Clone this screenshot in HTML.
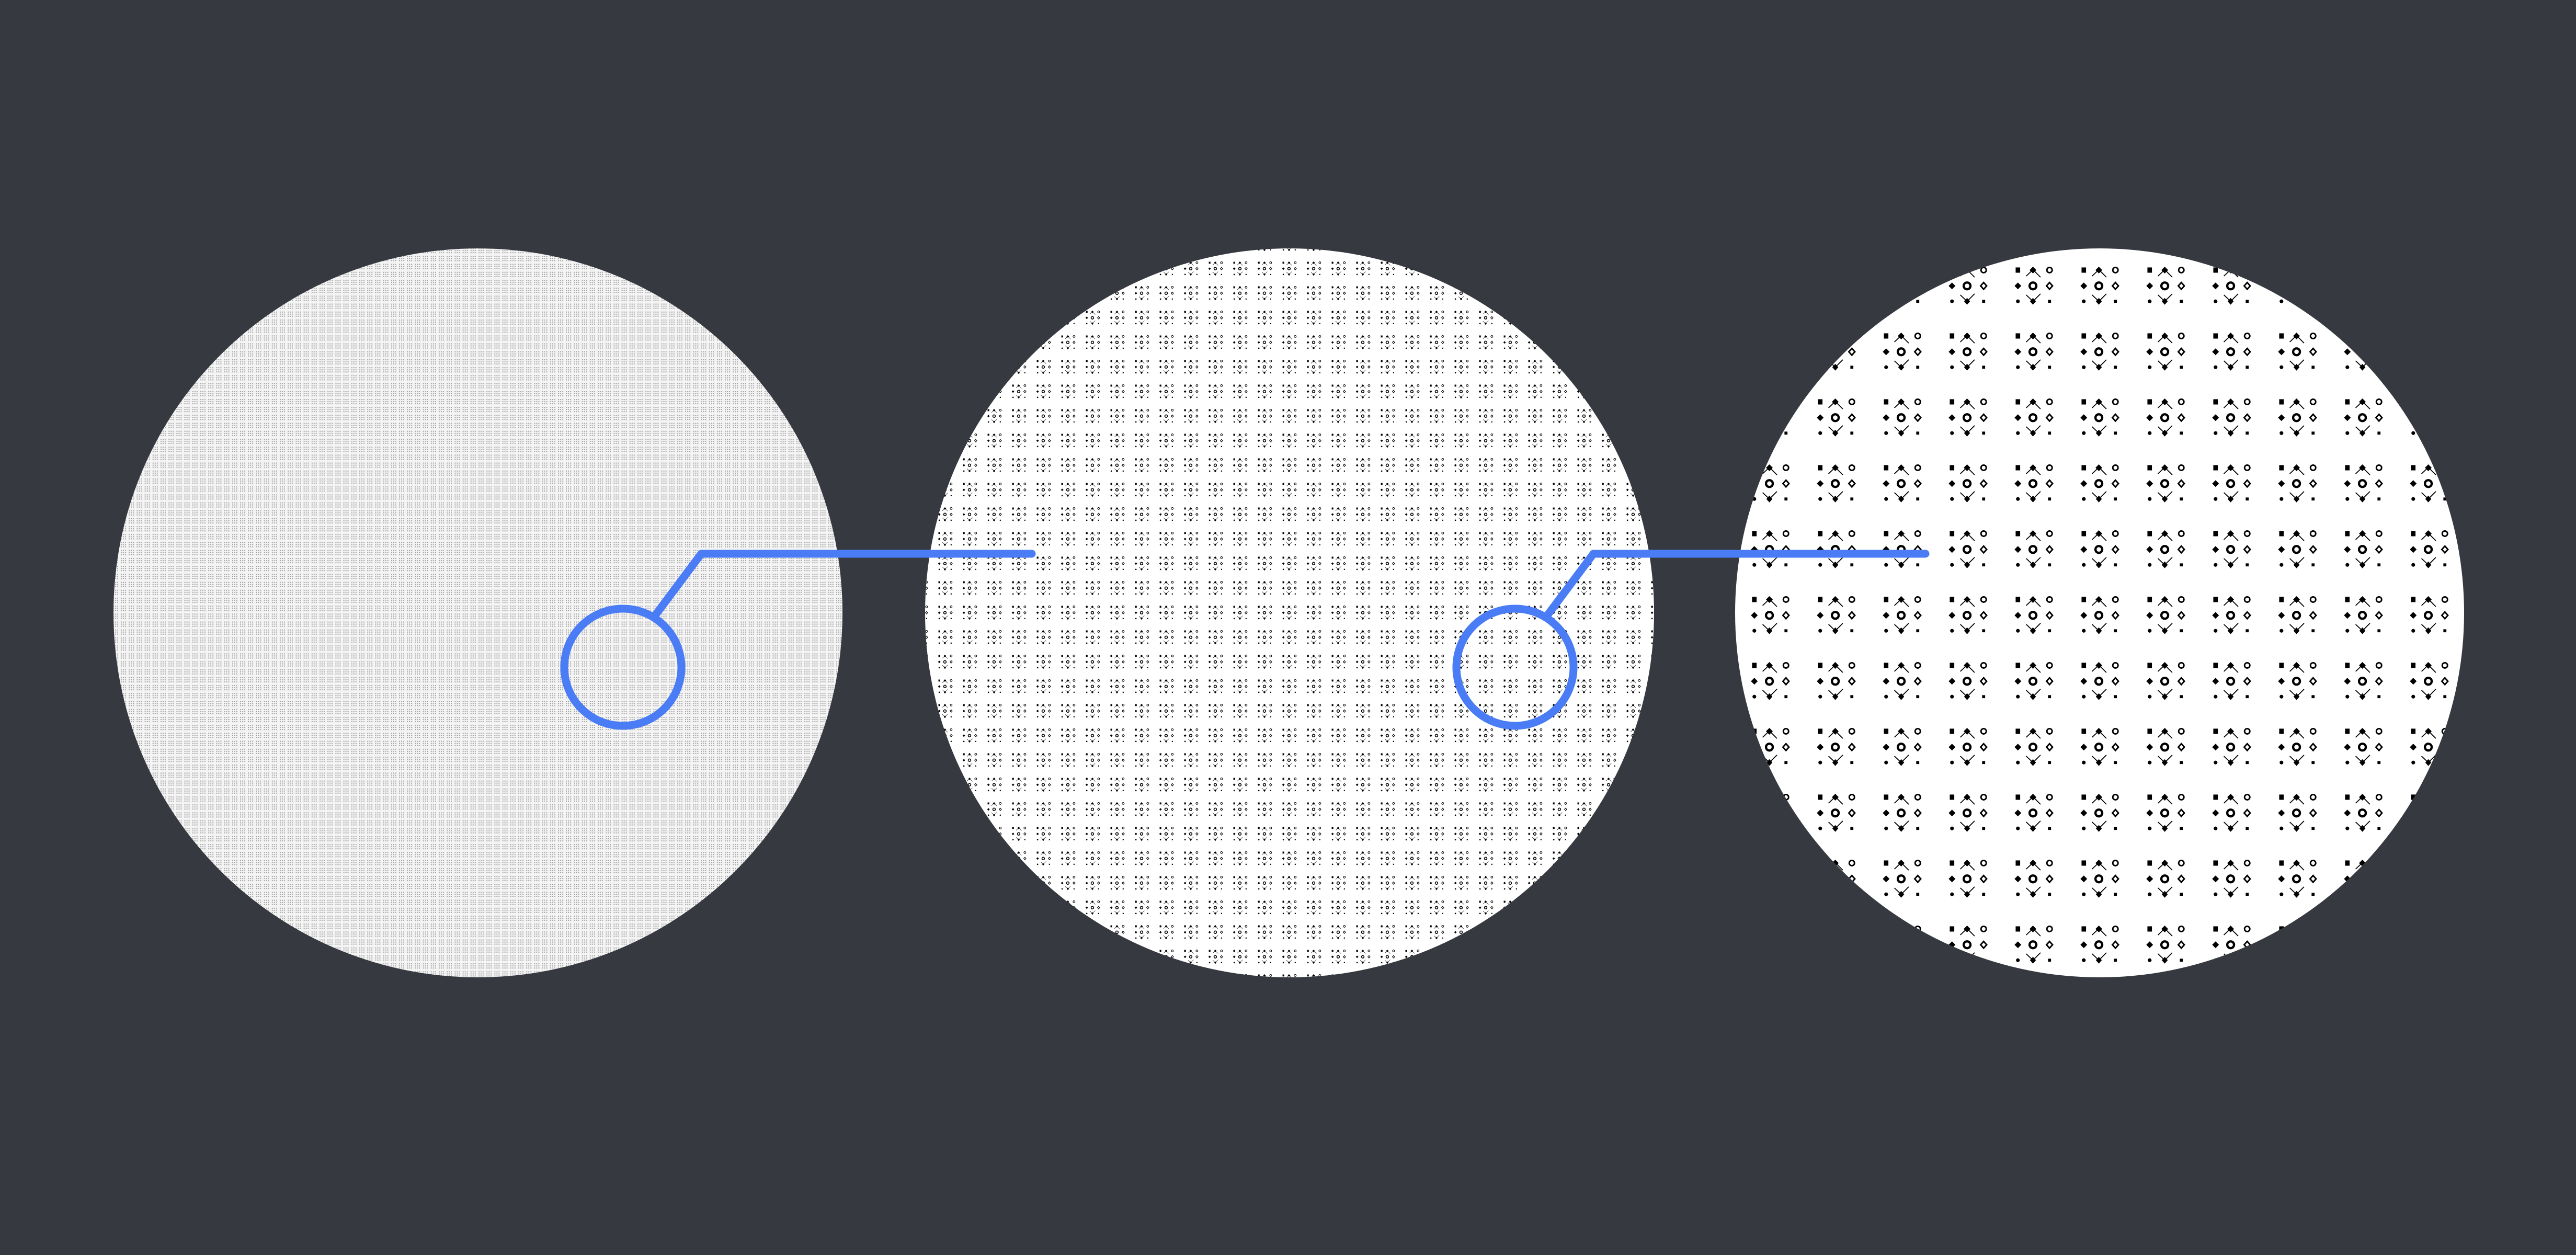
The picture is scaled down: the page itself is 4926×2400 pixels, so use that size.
<!DOCTYPE html>
<html><head><meta charset="utf-8"><style>
html,body{margin:0;padding:0;background:#363940;}
svg{display:block}
</style></head><body>
<svg width="4926" height="2400" viewBox="0 0 4926 2400" xmlns="http://www.w3.org/2000/svg">
<defs>
<g id="glyph">
  <rect x="-48" y="-48" width="12" height="14"/>
  <path d="M-2,-50 L7,-41 L-2,-32 L-11,-41Z"/>
  <circle cx="42" cy="-41" r="7" fill="none" stroke="#000" stroke-width="4"/>
  <path d="M-42,-8 L-33,1 L-42,10 L-51,1Z"/>
  <circle cx="-2" cy="1" r="9" fill="none" stroke="#000" stroke-width="6"/>
  <path d="M42,-8 L50,1 L42,10 L34,1Z" fill="none" stroke="#000" stroke-width="4"/>
  <circle cx="-42" cy="42" r="5"/>
  <path d="M-2,33 L6,42 L-2,51 L-10,42Z"/>
  <rect x="38" y="38" width="8" height="8"/>
  <path d="M-20,-25 L-2,-42 L18,-22 M-20,25 L-2,42 L18,22" fill="none" stroke="#000" stroke-width="2.5"/>
</g>
<pattern id="pat-right" width="126" height="126" patternUnits="userSpaceOnUse" x="3952" y="1113">
  <rect width="126" height="126" fill="#fff"/>
  <use href="#glyph" transform="translate(63,63) scale(0.72)"/>
</pattern>
<pattern id="pat-mid" width="47" height="47" patternUnits="userSpaceOnUse" x="2442" y="1148">
  <rect width="47" height="47" fill="#fff"/>
  <use href="#glyph" transform="translate(23.5,23.5) scale(0.27)"/>
</pattern>
<pattern id="pat-left" width="15.2" height="15.2" patternUnits="userSpaceOnUse">
  <rect width="15.2" height="15.2" fill="#f4f4f4"/>
  <g fill="#a0a0a0">
    <rect x="3" y="3" width="2" height="2"/><rect x="7" y="3" width="2" height="2"/><rect x="11" y="3" width="2" height="2"/>
    <rect x="3" y="7" width="2" height="2"/><rect x="7" y="7" width="2" height="2"/><rect x="11" y="7" width="2" height="2"/>
    <rect x="3" y="11" width="2" height="2"/><rect x="7" y="11" width="2" height="2"/><rect x="11" y="11" width="2" height="2"/>
  </g>
</pattern>
</defs>
<rect width="4926" height="2400" fill="#363940"/>
<circle cx="914" cy="1172" r="697" fill="url(#pat-left)"/>
<circle cx="2466" cy="1172" r="697" fill="url(#pat-mid)"/>
<circle cx="4015" cy="1172" r="697" fill="url(#pat-right)"/>
<g fill="none" stroke="#4a7cf6" stroke-width="15" stroke-linecap="round" stroke-linejoin="round">
  <circle cx="1191" cy="1276" r="112"/>
  <polyline points="1252,1178 1341,1059 1973,1059"/>
</g>
<g fill="none" stroke="#4a7cf6" stroke-width="15" stroke-linecap="round" stroke-linejoin="round">
  <circle cx="2897" cy="1276" r="112"/>
  <polyline points="2958,1178 3047,1059 3682,1059"/>
</g>
</svg>
</body></html>
